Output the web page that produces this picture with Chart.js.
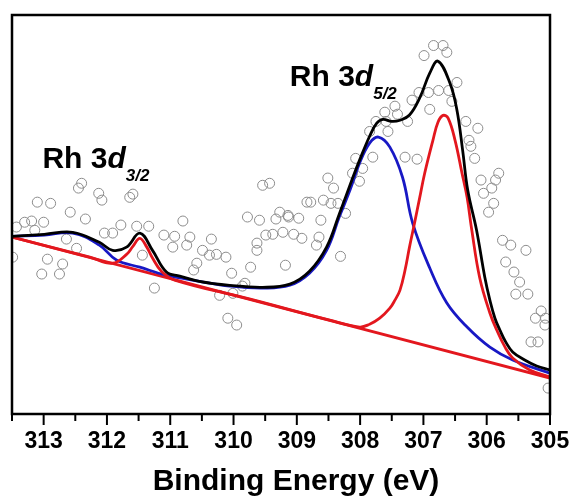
<!DOCTYPE html>
<html>
<head>
<meta charset="utf-8">
<script src="https://cdn.jsdelivr.net/npm/chart.js@4"></script>
<style>
  html, body { margin: 0; padding: 0; background: #fff; }
  #wrap { width: 575px; height: 497px; }
</style>
</head>
<body>
<div id="wrap"><canvas id="myChart" width="575" height="497"></canvas></div>
<script>
// measured points (binding energy, intensity in arbitrary units)
var rawE = [313.49, 313.43, 313.30, 313.19, 313.14, 313.10, 313.03, 313.00, 312.94, 312.89,
  312.75, 312.70, 312.64, 312.58, 312.48, 312.45, 312.40, 312.34, 312.13, 312.08,
  312.04, 311.91, 311.78, 311.64, 311.59, 311.53, 311.44, 311.34, 311.25, 311.10,
  310.96, 310.93, 310.80, 310.74, 310.69, 310.63, 310.58, 310.49, 310.38, 310.35,
  310.27, 310.22, 310.12, 310.09, 310.03, 310.01, 309.95, 309.86, 309.82, 309.78,
  309.73, 309.63, 309.63, 309.59, 309.54, 309.49, 309.43, 309.38, 309.33, 309.27,
  309.22, 309.18, 309.14, 309.13, 309.05, 308.97, 308.92, 308.84, 308.78, 308.69,
  308.65, 308.62, 308.58, 308.51, 308.46, 308.42, 308.35, 308.31, 308.23, 308.12,
  308.07, 308.01, 307.96, 307.85, 307.80, 307.75, 307.61, 307.59, 307.56, 307.45,
  307.41, 307.29, 307.25, 307.18, 307.10, 307.07, 306.99, 306.92, 306.90, 306.84,
  306.76, 306.69, 306.63, 306.60, 306.55, 306.47, 306.33, 306.28, 306.25, 306.19,
  306.14, 306.09, 306.05, 305.97, 305.92, 305.89, 305.86, 305.81, 305.75, 305.70,
  305.62, 305.57, 305.54, 305.48, 305.38, 305.35, 305.30, 305.23, 305.19, 305.14,
  305.08, 305.07, 305.03];
var rawI = [39.8, 47.3, 48.5, 48.8, 46.5, 53.5, 35.6, 48.5, 39.3, 53.2,
  35.6, 38.1, 44.3, 51.0, 42.0, 57.0, 58.2, 49.3, 55.7, 54.0,
  45.8, 45.8, 47.8, 54.7, 55.5, 47.5, 40.3, 47.5, 32.1, 45.3,
  42.3, 45.0, 48.8, 42.8, 44.8, 36.6, 38.3, 41.5, 40.3, 44.3,
  40.5, 30.3, 39.8, 24.6, 35.8, 30.8, 22.9, 32.6, 33.3, 49.8,
  37.3, 43.3, 41.5, 49.0, 57.7, 45.3, 58.2, 45.5, 49.3, 51.0,
  46.0, 37.8, 50.2, 49.8, 45.5, 49.5, 44.5, 53.5, 53.5, 42.8,
  44.8, 49.0, 54.0, 59.5, 53.2, 57.0, 53.2, 40.0, 50.7, 60.7,
  64.4, 58.7, 61.9, 71.1, 64.7, 73.6, 75.9, 73.6, 71.1, 77.4,
  75.4, 64.7, 73.6, 78.9, 64.2, 80.8, 90.0, 80.8, 76.6, 92.5,
  81.3, 92.5, 90.8, 81.3, 78.6, 83.3, 73.6, 68.9, 67.4, 64.4,
  71.9, 59.0, 55.7, 51.0, 57.0, 53.2, 59.0, 60.7, 44.0, 38.6,
  42.8, 36.1, 30.6, 33.6, 41.5, 30.6, 18.7, 24.6, 18.7, 26.4,
  22.9, 24.6, 7.2];

// fitted envelope
var sumE = [313.50, 312.99, 312.54, 312.12, 311.91, 311.69, 311.48, 311.28, 311.06, 310.85,
  310.54, 310.06, 309.54, 309.11, 308.80, 308.53, 308.33, 308.13, 308.01, 307.85,
  307.74, 307.64, 307.50, 307.37, 307.22, 307.06, 306.90, 306.77, 306.58, 306.47,
  306.38, 306.30, 306.16, 306.03, 305.95, 305.87, 305.79, 305.70, 305.59, 305.40,
  305.21, 305.00];
var sumI = [45.0, 45.5, 46.0, 43.5, 41.5, 42.3, 45.8, 41.5, 36.1, 35.1,
  33.8, 32.8, 32.3, 33.1, 36.3, 42.3, 50.5, 59.0, 63.9, 69.9,
  73.1, 74.1, 73.6, 73.9, 75.2, 79.4, 85.6, 88.6, 83.1, 76.4,
  66.4, 56.5, 46.5, 34.8, 29.1, 24.6, 21.6, 18.7, 16.2, 14.2,
  12.7, 11.7];

// blue component (Rh3+)
var blueE = [313.50, 312.99, 312.54, 312.12, 311.85, 311.48, 311.06, 310.54, 310.06, 309.54,
  309.11, 308.80, 308.53, 308.33, 308.16, 308.01, 307.85, 307.71, 307.53, 307.33,
  307.17, 306.90, 306.63, 306.31, 305.95, 305.59, 305.00];
var blueI = [45.0, 45.3, 45.8, 42.8, 39.1, 37.3, 35.3, 33.8, 32.6, 32.1,
  32.8, 35.8, 41.5, 49.8, 56.5, 63.2, 68.2, 69.7, 67.2, 59.7,
  48.3, 37.1, 28.4, 22.4, 17.4, 14.2, 10.9];

// red component (Rh0)
var redE = [313.50, 312.27, 311.91, 311.69, 311.59, 311.48, 311.37, 311.28, 311.14, 310.93,
  309.75, 308.48, 308.01, 307.85, 307.69, 307.53, 307.45, 307.37, 307.29, 307.22,
  307.14, 307.06, 306.98, 306.85, 306.77, 306.69, 306.61, 306.50, 306.39, 306.31,
  306.24, 306.11, 305.95, 305.84, 305.71, 305.59, 305.32, 305.00];
var redI = [44.8, 39.8, 38.3, 40.5, 42.5, 44.5, 42.3, 39.6, 36.3, 34.1,
  29.4, 24.1, 22.4, 23.1, 24.6, 27.1, 29.1, 31.6, 36.6, 42.3,
  48.3, 54.5, 60.7, 68.9, 73.4, 75.1, 74.4, 68.9, 60.7, 54.7,
  47.0, 34.6, 25.9, 21.6, 17.4, 14.7, 11.7, 10.0];

// background
var bgE = [313.5, 305.0];
var bgI = [44.8, 9.7];

function pairs(xs, ys) {
  var out = [];
  for (var i = 0; i < xs.length; i++) out.push({x: xs[i], y: ys[i]});
  return out;
}

function curve(label, xs, ys, color) {
  return {
    label: label,
    data: pairs(xs, ys),
    showLine: true,
    borderColor: color,
    borderWidth: 2.8,
    pointRadius: 0,
    fill: false,
    tension: 0.4
  };
}

const frame = {
  id: 'frame',
  afterDatasetsDraw(chart) {
    const ctx = chart.ctx, a = chart.chartArea, x = chart.scales.x;
    ctx.save();
    ctx.strokeStyle = '#000';
    ctx.lineWidth = 2.5;
    ctx.strokeRect(a.left, a.top, a.right - a.left, a.bottom - a.top);
    ctx.lineWidth = 2;
    x.ticks.forEach(function (t) {
      const px = x.getPixelForValue(t.value);
      const len = Math.abs(t.value - Math.round(t.value)) < 1e-6 ? 11 : 7;
      ctx.beginPath();
      ctx.moveTo(px, a.bottom);
      ctx.lineTo(px, a.bottom + len);
      ctx.stroke();
    });
    // axis title, sits a little right of centre as in the original
    ctx.fillStyle = '#000';
    ctx.textAlign = 'center';
    ctx.textBaseline = 'alphabetic';
    ctx.font = 'bold 30px "Liberation Sans", Arial, sans-serif';
    ctx.fillText('Binding Energy (eV)', (a.left + a.right) / 2 + 15, 490);
    ctx.restore();
  }
};

const labels = {
  id: 'labels',
  afterDatasetsDraw(chart) {
    const ctx = chart.ctx, x = chart.scales.x, y = chart.scales.y;
    function put(e, v, sub) {
      let px = x.getPixelForValue(e), py = y.getPixelForValue(v);
      ctx.fillStyle = '#000';
      ctx.textBaseline = 'alphabetic';
      ctx.font = 'bold 30px "Liberation Sans", Arial, sans-serif';
      ctx.fillText('Rh 3', px, py);
      px += ctx.measureText('Rh 3').width;
      ctx.font = 'italic bold 30px "Liberation Sans", Arial, sans-serif';
      ctx.fillText('d', px, py);
      px += ctx.measureText('d').width;
      ctx.font = 'italic bold 17px "Liberation Sans", Arial, sans-serif';
      ctx.fillText(sub, px, py + 13);
    }
    ctx.save();
    put(313.02, 61.9, '3/2');
    put(309.11, 82.3, '5/2');
    ctx.restore();
  }
};

const data = {
  datasets: [
    curve('Envelope', sumE, sumI, '#000000'),
    curve('Rh 0', redE, redI, '#e3171e'),
    curve('Rh 3+', blueE, blueI, '#1818c4'),
    curve('Background', bgE, bgI, '#e3171e'),
    {
      label: 'Raw',
      data: pairs(rawE, rawI),
      pointStyle: 'circle',
      pointRadius: 5,
      pointBorderWidth: 1,
      pointBorderColor: '#8c8c8c',
      pointBackgroundColor: 'rgba(255,255,255,0)',
      showLine: false,
      clip: 0
    }
  ]
};

const config = {
  type: 'scatter',
  data: data,
  options: {
    responsive: false,
    animation: false,
    layout: { padding: { left: 12, right: 25, top: 15, bottom: 0 } },
    plugins: { legend: { display: false }, tooltip: { enabled: false } },
    scales: {
      x: {
        type: 'linear',
        reverse: true,
        min: 305,
        max: 313.5,
        grid: { display: true, drawOnChartArea: false, tickLength: 14, tickColor: 'rgba(0,0,0,0)' },
        border: { display: false },
        afterFit: function (s) { s.height = 83; },
        ticks: {
          stepSize: 0.5,
          autoSkip: false,
          maxRotation: 0,
          padding: 0,
          color: '#000',
          font: { family: '"Liberation Sans", Arial, sans-serif', size: 23, weight: 'bold' },
          callback: function (v) {
            return Math.abs(v - Math.round(v)) < 1e-6 ? String(Math.round(v)) : '';
          }
        }
      },
      y: {
        display: false,
        min: 0.75,
        max: 100.1
      }
    }
  },
  plugins: [frame, labels]
};

var myChart = new Chart(document.getElementById('myChart'), config);
</script>
</body>
</html>
